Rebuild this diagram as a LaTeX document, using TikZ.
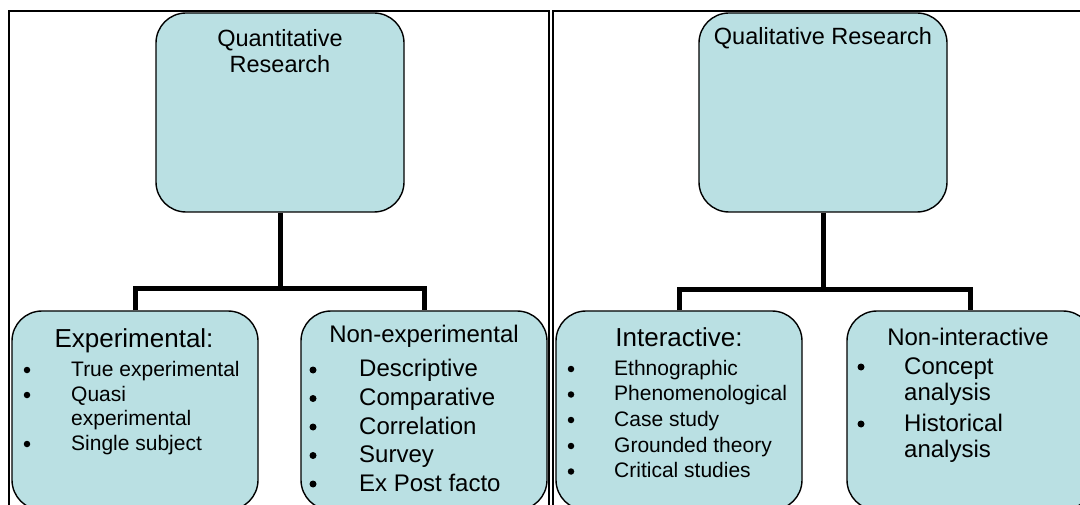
\documentclass[tikz,border=0pt]{standalone}
\usepackage{fontspec}
\setmainfont{Liberation Sans}
\definecolor{boxfill}{RGB}{186,224,227}
\begin{document}
\begin{tikzpicture}[x=1pt,y=-1pt,
  box/.style={draw=black, line width=1.4pt, fill=boxfill, rounded corners=30pt, inner sep=0pt, shape=rectangle},
  topbox/.style={box, minimum width=248pt, minimum height=199pt},
  subbox/.style={box, minimum width=246pt, minimum height=199pt},
  conn/.style={line width=5pt, line join=miter},
  frameline/.style={draw=black, line width=2pt},
  ttl/.style={inner sep=0pt, anchor=base, font=\fontsize{23.5}{27}\selectfont},
  headA/.style={inner sep=0pt, anchor=base, font=\fontsize{26}{30}\selectfont},
  headB/.style={inner sep=0pt, anchor=base, font=\fontsize{24}{28}\selectfont},
  itemS/.style={inner sep=0pt, anchor=base west, font=\fontsize{21}{25}\selectfont},
  itemL/.style={inner sep=0pt, anchor=base west, font=\fontsize{24}{28}\selectfont},
  dotS/.style={circle, fill=black, inner sep=0pt, minimum size=6.5pt},
  dotL/.style={circle, fill=black, inner sep=0pt, minimum size=7pt}]
\useasboundingbox (0,0) rectangle (1080,505);
\clip (0,0) rectangle (1080,505);
\fill[white] (0,0) rectangle (1080,505);
% frames
\draw[frameline] (9,520) -- (9,11) -- (549,11) -- (549,520);
\draw[frameline] (553,520) -- (553,11) -- (1090,11);
% boxes
\node[topbox] (quant) at (280,112.5) {};
\node[topbox] (qual) at (823,112.5) {};
\node[subbox] (exp) at (135,410.5) {};
\node[subbox] (nonexp) at (424,410.5) {};
\node[subbox] (inter) at (679,410.5) {};
\node[subbox] (nonint) at (970,410.5) {};
% connectors
\coordinate (qj) at (280,289);
\coordinate (lj) at (823,290);
\draw[conn] (quant.south) -- (qj);
\draw[conn] (exp.north) |- (qj) -| (nonexp.north);
\draw[conn] (qual.south) -- (lj);
\draw[conn] (inter.north) |- (lj) -| (nonint.north);
% titles
\node[ttl] (t1a) at (280,47) {Quantitative};
\node[ttl] (t1b) at (280,73) {Research};
\node[ttl] (t2) at (823,45) {Qualitative Research};
% experimental
\node[headA] (h1) at (134,348) {Experimental:};
\node[dotS] (b11) at (27,370) {};
\node[itemS] (i11) at (71,376) {True experimental};
\node[dotS] (b12) at (27,395) {};
\node[itemS] (i12) at (71,401) {Quasi};
\node[itemS] (i12b) at (71,425) {experimental};
\node[dotS] (b13) at (27,444) {};
\node[itemS] (i13) at (71,450) {Single subject};
% non-experimental
\node[headB] (h2) at (424,343) {Non-experimental};
\node[dotL] (b21) at (313,370) {};
\node[itemL] (i21) at (359,377) {Descriptive};
\node[dotL] (b22) at (313,398.5) {};
\node[itemL] (i22) at (359,405.5) {Comparative};
\node[dotL] (b23) at (313,427) {};
\node[itemL] (i23) at (359,434) {Correlation};
\node[dotL] (b24) at (313,455.5) {};
\node[itemL] (i24) at (359,462.5) {Survey};
\node[dotL] (b25) at (313,484) {};
\node[itemL] (i25) at (359,491) {Ex Post facto};
% interactive
\node[headA] (h3) at (679,346) {Interactive:};
\node[dotS] (b31) at (571,369) {};
\node[itemS] (i31) at (614,375) {Ethnographic};
\node[dotS] (b32) at (571,394.5) {};
\node[itemS] (i32) at (614,400.5) {Phenomenological};
\node[dotS] (b33) at (571,420) {};
\node[itemS] (i33) at (614,426) {Case study};
\node[dotS] (b34) at (571,446) {};
\node[itemS] (i34) at (614,452) {Grounded theory};
\node[dotS] (b35) at (571,471.5) {};
\node[itemS] (i35) at (614,477.5) {Critical studies};
% non-interactive
\node[headB] (h4) at (968,345) {Non-interactive};
\node[dotL] (b41) at (861,367) {};
\node[itemL] (i41) at (904,374) {Concept};
\node[itemL] (i41b) at (904,400) {analysis};
\node[dotL] (b42) at (861,424) {};
\node[itemL] (i42) at (904,431) {Historical};
\node[itemL] (i42b) at (904,457) {analysis};
\end{tikzpicture}
\end{document}
